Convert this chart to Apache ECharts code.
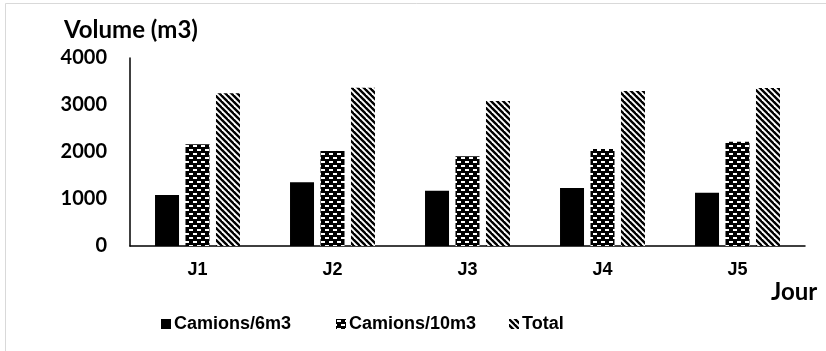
<!DOCTYPE html>
<html>
<head>
<meta charset="utf-8">
<script src="https://cdn.jsdelivr.net/npm/echarts@6/dist/echarts.min.js"></script>
<style>
  html, body { margin: 0; padding: 0; background: #fff; }
  #chart { width: 826px; height: 351px; }
</style>
</head>
<body>
<div id="chart"></div>
<script>
// Daily volumes (m3) per truck type
const days = ['J1', 'J2', 'J3', 'J4', 'J5'];
const camions6 = [1085, 1355, 1177, 1234, 1134];
const camions10 = [2164, 2021, 1909, 2064, 2219];
const totals = [3249, 3368, 3085, 3298, 3360];
const yTicks = [0, 1000, 2000, 3000, 4000];
const seriesNames = ['Camions/6m3', 'Camions/10m3', 'Total'];

// Brick-like dotted fill: black ground with short white dashes
function brickPattern() {
  const c = document.createElement('canvas');
  c.width = 8; c.height = 8;
  const g = c.getContext('2d');
  g.fillStyle = '#000';
  g.fillRect(0, 0, 8, 8);
  g.fillStyle = '#fff';
  g.fillRect(1, 1, 4, 2);
  g.fillRect(5, 5, 4, 2);
  g.fillRect(-3, 5, 4, 2);
  return c;
}

// Wide downward diagonal stripes
function diagPattern() {
  const c = document.createElement('canvas');
  c.width = 6; c.height = 6;
  const g = c.getContext('2d');
  g.fillStyle = '#fff';
  g.fillRect(0, 0, 6, 6);
  g.strokeStyle = '#000';
  g.lineWidth = 2.4;
  for (let k = -12; k <= 12; k += 6) {
    g.beginPath();
    g.moveTo(k - 2, -2);
    g.lineTo(k + 8, 8);
    g.stroke();
  }
  return c;
}

const brick = { image: brickPattern(), repeat: 'repeat' };
const diag = { image: diagPattern(), repeat: 'repeat' };

const chart = echarts.init(document.getElementById('chart'), null, { renderer: 'canvas' });

const calibriLike = 'Lato, "Open Sans", sans-serif';
const arialLike = '"Liberation Sans", Arial, sans-serif';

// One legend block per series so each entry sits at its own spot
const legendLefts = [156, 331, 504];
const legends = seriesNames.map((name, i) => ({
  bottom: 13,
  left: legendLefts[i],
  itemWidth: 10,
  itemHeight: 10,
  icon: 'rect',
  textStyle: { fontFamily: arialLike, fontWeight: 'bold', fontSize: 18, color: '#000', padding: [0, 0, 0, -2] },
  data: [name]
}));

chart.setOption({
  animation: false,
  backgroundColor: '#fff',
  graphic: [
    {
      type: 'rect',
      shape: { x: 5.5, y: 3.5, width: 830, height: 352 },
      style: { fill: 'none', stroke: '#d9d9d9', lineWidth: 1 },
      silent: true
    },
    {
      type: 'text',
      left: 64, top: 18,
      style: { text: 'Volume (m3)', font: 'bold 24px ' + calibriLike, fill: '#000' }
    },
    {
      type: 'text',
      left: 771, top: 280,
      style: { text: 'Jour', font: 'bold 24px ' + calibriLike, fill: '#000' }
    }
  ],
  grid: { left: 130, right: 21, top: 58, bottom: 105, containLabel: false },
  legend: legends,
  xAxis: {
    type: 'category',
    data: days,
    axisLine: { lineStyle: { color: '#000', width: 1.5 } },
    axisTick: { show: false },
    axisLabel: { margin: 15, fontFamily: arialLike, fontWeight: 'bold', fontSize: 18, color: '#000' }
  },
  yAxis: {
    type: 'value',
    min: yTicks[0],
    max: yTicks[yTicks.length - 1],
    interval: yTicks[1] - yTicks[0],
    axisLine: { show: true, lineStyle: { color: '#000', width: 1.5 } },
    axisTick: { show: false },
    splitLine: { show: false },
    axisLabel: {
      margin: 23, fontFamily: calibriLike, fontWeight: 'bold', fontSize: 20, color: '#000',
      formatter: v => String(v)
    }
  },
  series: [
    {
      name: seriesNames[0], type: 'bar', data: camions6,
      barWidth: 24, barGap: '27%', barCategoryGap: '37%',
      itemStyle: { color: '#000' }
    },
    {
      name: seriesNames[1], type: 'bar', data: camions10,
      barWidth: 24,
      itemStyle: { color: brick }
    },
    {
      name: seriesNames[2], type: 'bar', data: totals,
      barWidth: 24,
      itemStyle: { color: diag }
    }
  ]
});
</script>
</body>
</html>
